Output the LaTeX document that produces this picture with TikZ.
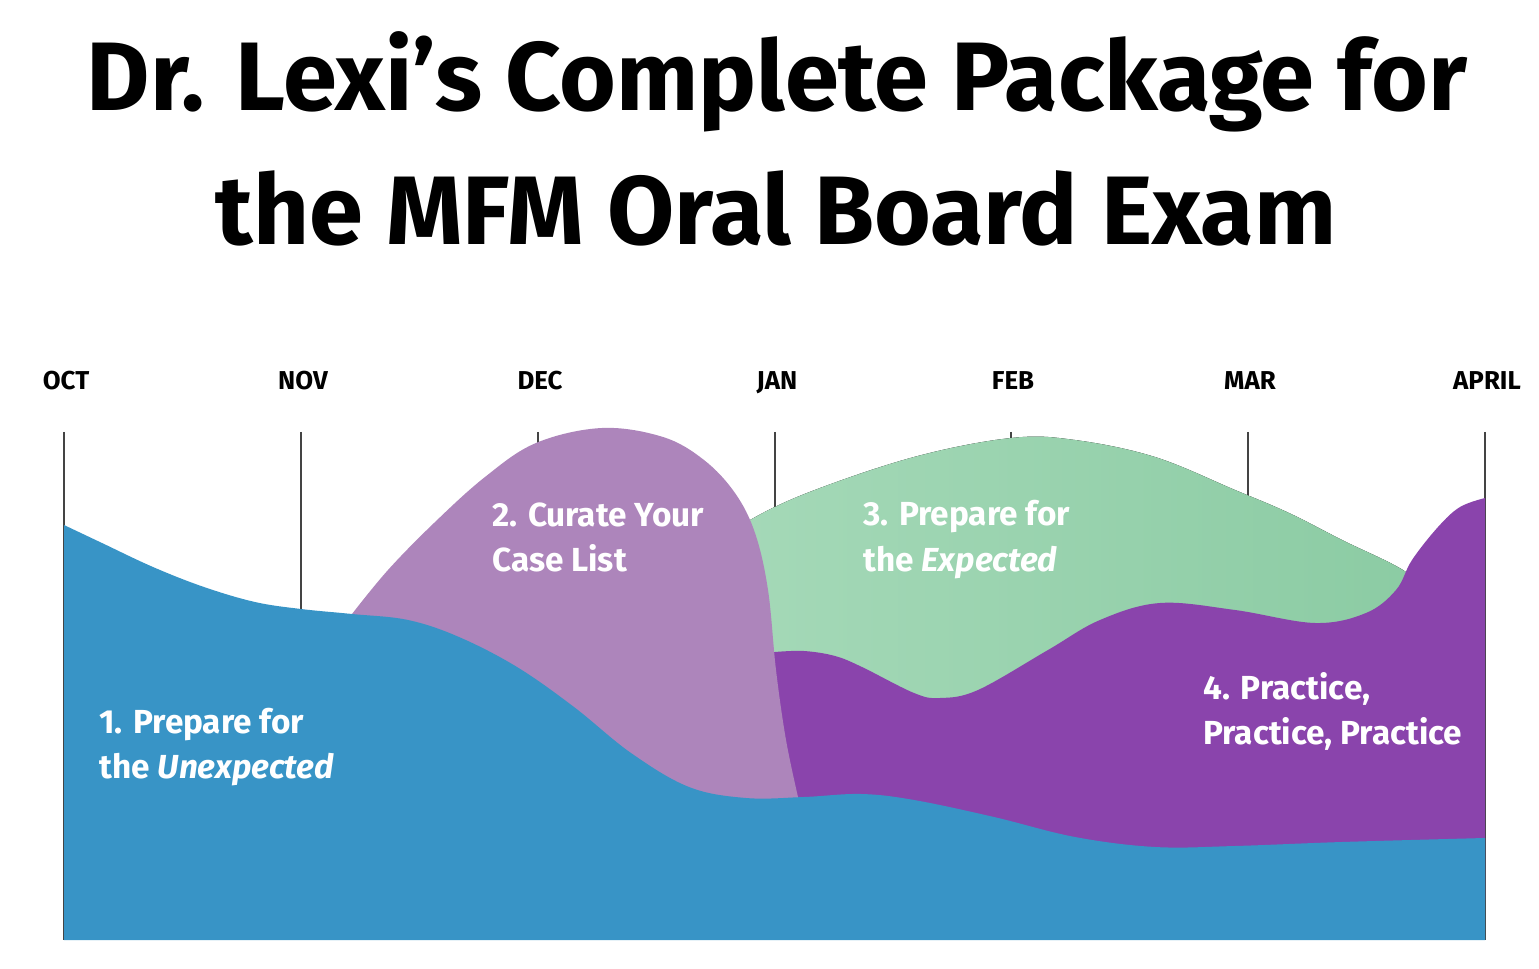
\documentclass[tikz,border=0pt]{standalone}
\usepackage{fontspec}
\setmainfont{Fira Sans}
\newfontfamily\titlefont{Fira Sans}
\newfontfamily\labelfont{Fira Sans}
\definecolor{cblue}{HTML}{3894C6}
\definecolor{clpurple}{HTML}{AD85BB}
\definecolor{cdpurple}{HTML}{8A44AC}
\definecolor{cgreenL}{HTML}{A5D9B8}
\definecolor{cgreenR}{HTML}{8BCBA3}
\definecolor{cline}{HTML}{444444}
\begin{document}
\begin{tikzpicture}[x=0.75pt,y=-0.75pt,
  month/.style={anchor=base,inner sep=0pt,font=\labelfont\bfseries\fontsize{19.4}{21}\selectfont},
  bandtext/.style={anchor=base west,inner sep=0pt,text=white,font=\labelfont\bfseries\fontsize{25}{30}\selectfont},
  titletext/.style={anchor=base,inner sep=0pt,font=\titlefont\bfseries\fontsize{73}{80}\selectfont},
  mline/.style={draw=cline,line width=0.8pt}]
\useasboundingbox (0,0) rectangle (1539,969);
% title
\node[titletext] (t1) at (777,111) {Dr. Lexi’s Complete Package for};
\node[titletext] (t2) at (776,245) {the MFM Oral Board Exam};
% months
\foreach \x/\m/\n in {64/OCT/oct,301/NOV/nov,538/DEC/dec,775/JAN/jan,1011/FEB/feb,1248/MAR/mar,1485/APRIL/apr}{
  \node[month] (\n) at (\x+2,390) {\m};
  \draw[mline] (\x,432) -- (\x,940);
}
% green band
\fill[left color=cgreenL,right color=cgreenR]
  (720,760) -- plot[smooth,tension=0.6] coordinates {(720,545) (745,523) (807,493) (914,457) (1011,438) (1075,440) (1155,457) (1235,490) (1289,513) (1342,540) (1406,572) (1430,600)} -- (1430,760) -- cycle;
% dark purple band
\fill[cdpurple]
  (765,900) -- (765,655) -- plot[smooth,tension=0.6] coordinates {(775,652) (804,651) (835,656) (862,667) (914,693) (940,698) (978,690) (1048,650) (1100,620) (1160,603) (1235,610) (1315,623) (1366,613) (1396,590) (1412,560) (1438,527) (1460,507) (1485,498)} -- (1485,900) -- cycle;
% light purple band
\fill[clpurple]
  (345,640) -- plot[smooth,tension=0.6] coordinates {(352,614) (388,570) (434,523) (485,477) (536,443) (602,428) (663,437) (704,460) (735,493) (755,533) (768,590) (776,670) (786,740) (798,797)} -- (800,860) -- cycle;
% blue band
\fill[cblue]
  (64,940) -- plot[smooth,tension=0.6] coordinates {(64,525) (102,543) (153,567) (204,587) (255,602) (301,609) (352,614) (408,620) (459,637) (517,667) (574,707) (631,753) (689,787) (746,798) (804,797) (861,794) (914,800) (994,817) (1075,837) (1155,847) (1235,846) (1342,842) (1485,838)} -- (1485,940) -- cycle;
% band labels
\node[bandtext] (b1a) at (99,733) {1. Prepare for};
\node[bandtext] (b1b) at (99,778) {the \textit{Unexpected}};
\node[bandtext] (b2a) at (492,527) {2. Curate Your};
\node[bandtext] (b2b) at (492,572) {Case List};
\node[bandtext] (b3a) at (863,526) {3. Prepare for};
\node[bandtext] (b3b) at (863,571) {the \textit{Expected}};
\node[bandtext] (b4a) at (1203,699) {4. Practice,};
\node[bandtext] (b4b) at (1203,744) {Practice, Practice};
\end{tikzpicture}
\end{document}
